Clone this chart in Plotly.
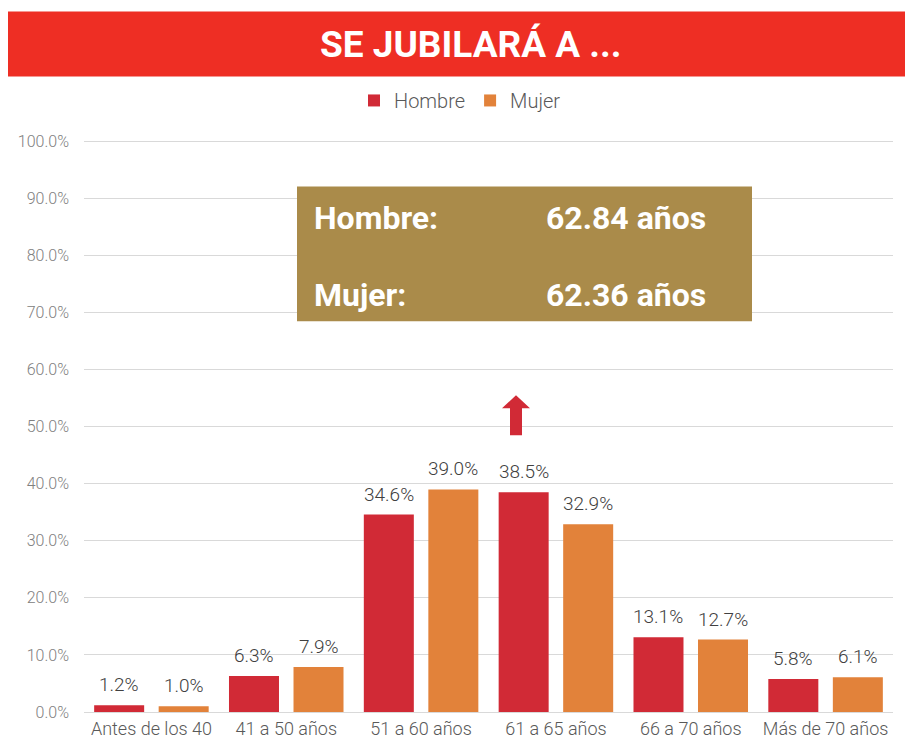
import plotly.graph_objects as go

categories = ["Antes de los 40", "41 a 50 años", "51 a 60 años", "61 a 65 años", "66 a 70 años", "Más de 70 años"]
hombre = [1.2, 6.3, 34.6, 38.5, 13.1, 5.8]
mujer = [1.0, 7.9, 39.0, 32.9, 12.7, 6.1]
series_names = ["Hombre", "Mujer"]
title_text = "SE JUBILARÁ A ..."
box_rows = [("Hombre:", "62.84 años"), ("Mujer:", "62.36 años")]
y_ticks = [0, 10, 20, 30, 40, 50, 60, 70, 80, 90, 100]
y_tick_labels = [f"{v:.1f}%" for v in y_ticks]

RED = "#D12A36"
ORANGE = "#E2823A"
FONT = "Roboto"

# page body has an 8px margin; size the figure so it fits the window
OFF = 8
W, H = 913 - OFF, 743 - OFF
YMAX = 100.6
PL, PR, PB = 84, 893, 712          # plot area in reference (window) pixels
UNIT = (712 - 141) / 100.0         # px per percentage point
PT = PB - YMAX * UNIT
L, T = PL - OFF, PT - OFF
R = W - (PR - OFF)
B = H - (PB - OFF)
pw, ph = PR - PL, PB - PT

def px(X):
    return (X - PL) / pw

def py(Y):
    return (PB - Y) / ph

BARGAP = 0.043
BARGROUPGAP = 0.225

fig = go.Figure()
for name, vals, col in [(series_names[0], hombre, RED), (series_names[1], mujer, ORANGE)]:
    fig.add_trace(go.Bar(
        x=categories, y=vals, name=name, marker=dict(color=col, line=dict(width=0)),
        cliponaxis=False,
    ))

shapes = [
    dict(type="rect", xref="paper", yref="paper", x0=px(7), x1=px(920), y0=py(76), y1=py(11),
         fillcolor="#EE2E24", line=dict(width=0), layer="below"),
    dict(type="rect", xref="paper", yref="paper", x0=px(297), x1=px(752), y0=py(321), y1=py(186),
         fillcolor="#AA8B4A", line=dict(width=0), layer="above"),
    dict(type="path", xref="paper", yref="paper",
         path=(f"M {px(510)},{py(435)} L {px(510)},{py(408)} L {px(502)},{py(408)} L {px(516)},{py(395)} "
               f"L {px(530)},{py(408)} L {px(522)},{py(408)} L {px(522)},{py(435)} Z"),
         fillcolor=RED, line=dict(width=0), layer="above"),
]

annotations = [
    dict(text=f"<b>{title_text}</b>", xref="paper", yref="paper", x=px(471), y=py(44),
         showarrow=False, xanchor="center", yanchor="middle",
         font=dict(family=FONT, size=37, color="white")),
]
for i, (lab, val) in enumerate(box_rows):
    yy = py(218 + i * 77)
    annotations.append(dict(text=f"<b>{lab}</b>", xref="paper", yref="paper", x=px(312), y=yy,
                            showarrow=False, xanchor="left", yanchor="middle",
                            font=dict(family=FONT, size=32, color="white")))
    annotations.append(dict(text=f"<b>{val}</b>", xref="paper", yref="paper", x=px(544), y=yy,
                            showarrow=False, xanchor="left", yanchor="middle",
                            font=dict(family=FONT, size=32, color="white")))

# value labels above each bar (offset horizontally to sit over each bar of the group)
cat_w = pw / len(categories)
bar_off = (1 - BARGAP) * cat_w / 4
for vals, sh in [(hombre, -bar_off), (mujer, bar_off)]:
    for c, v in zip(categories, vals):
        annotations.append(dict(text=f"{v:.1f}%", x=c, y=v, xref="x", yref="y", showarrow=False,
                                xanchor="center", yanchor="bottom", xshift=sh, yshift=7,
                                font=dict(family=FONT, size=19, color="#404040", weight=300)))

fig.update_layout(
    width=W, height=H, margin=dict(l=L, r=R, t=T, b=B, autoexpand=False),
    paper_bgcolor="white", plot_bgcolor="white",
    barmode="group", bargap=BARGAP, bargroupgap=BARGROUPGAP,
    shapes=shapes, annotations=annotations,
    legend=dict(orientation="h", x=px(460), xanchor="center", y=py(100), yanchor="middle",
                font=dict(family=FONT, size=20, color="#595959", weight=300), itemwidth=30,
                traceorder="normal", bgcolor="rgba(0,0,0,0)"),
    showlegend=True,
    xaxis=dict(showgrid=False, showline=True, linecolor="#d9d9d9", linewidth=1, ticks="",
               automargin=False,
               tickfont=dict(family=FONT, size=18, color="#595959", weight=300)),
    yaxis=dict(range=[0, YMAX], tickmode="array", tickvals=y_ticks, ticktext=y_tick_labels,
               showgrid=True, gridcolor="#d9d9d9", gridwidth=1, zeroline=False, automargin=False,
               tickfont=dict(family=FONT, size=16, color="#808080", weight=300), ticklabelstandoff=14),
)

fig.write_html("out.html")
